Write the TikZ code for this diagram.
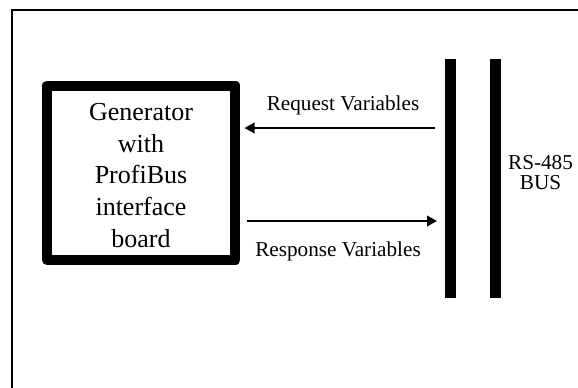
\documentclass[tikz,border=0pt]{standalone}
\usepackage{fontspec}
\setmainfont{Liberation Serif}
\usetikzlibrary{arrows.meta}
\begin{document}
\begin{tikzpicture}[x=1pt,y=-1pt,
  genbox/.style={draw=black,line width=10pt,line join=round,minimum width=188.5pt,minimum height=174.5pt,inner sep=0pt},
  bustext/.style={font=\fontsize{26}{31.6}\selectfont,align=center,inner sep=0pt},
  lbl/.style={font=\fontsize{21.2}{23}\selectfont,inner sep=0pt,anchor=base},
  busbar/.style={fill=black,draw=none,minimum width=11pt,minimum height=239pt,inner sep=0pt},
  sig/.style={line width=2pt,-{Triangle[length=10pt,width=10.5pt]}}]
\clip (0,0) rectangle (578,388);
% outer frame (cut off at right and bottom)
\draw[line width=1.7pt] (12,420) -- (12,10.2) -- (620,10.2);
% generator box
\node[genbox] (gen) at (141.2,172.8) {};
\node[bustext] (gentext) at (141,175.5) {Generator\\with\\ProfiBus\\interface\\board};
% bus bars
\node[busbar] (bus1) at (450.5,178.5) {};
\node[busbar] (bus2) at (495.5,178.5) {};
\node[font=\fontsize{21.2}{20}\selectfont,align=center,inner sep=0pt] (buslbl) at (540.5,172.5) {RS-485\\BUS};
% labels
\node[lbl] (req) at (343,110.7) {Request Variables};
\node[lbl] (resp) at (338,256.7) {Response Variables};
% connectors
\coordinate (rqs) at (434.5,128);
\coordinate (rqe) at (244.5,128);
\coordinate (rss) at (247,221);
\coordinate (rse) at (437,221);
\draw[sig] (rqs) -- (rqe);
\draw[sig] (rss) -- (rse);
\end{tikzpicture}
\end{document}
